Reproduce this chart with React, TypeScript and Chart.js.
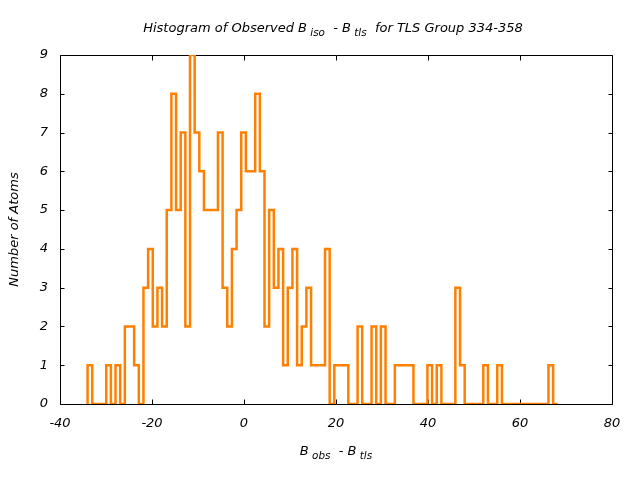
import React, { useEffect, useRef } from "react";
import { Chart, registerables } from "chart.js";

Chart.register(...registerables);

// Histogram bins (left edge of first bin, bin width) and counts per bin
const BIN_START = -34.0;
const BIN_WIDTH = 1.012;
const COUNTS = [
  1, 0, 0, 0, 1, 0, 1, 0, 2, 2,
  1, 0, 3, 4, 2, 3, 2, 5, 8, 5,
  7, 2, 9, 7, 6, 5, 5, 5, 7, 3,
  2, 4, 5, 7, 6, 6, 8, 6, 2, 5,
  3, 4, 1, 3, 4, 1, 2, 3, 1, 1,
  1, 4, 0, 1, 1, 1, 0, 0, 2, 0,
  0, 2, 0, 2, 0, 0, 1, 1, 1, 1,
  0, 0, 0, 1, 0, 1, 0, 0, 0, 3,
  1, 0, 0, 0, 0, 1, 0, 0, 1, 0,
  0, 0, 0, 0, 0, 0, 0, 0, 0, 1,
  0,
];

const X_MIN = -40;
const X_MAX = 80;
const X_STEP = 20;
const Y_MIN = 0;
const Y_MAX = 9;
const Y_STEP = 1;

type Part = { text: string; sub: boolean };
const TITLE_PARTS: Part[] = [
  { text: "Histogram of Observed B", sub: false },
  { text: " iso", sub: true },
  { text: "  - B", sub: false },
  { text: " tls", sub: true },
  { text: "  for TLS Group 334-358", sub: false },
];
const X_TITLE_PARTS: Part[] = [
  { text: "B", sub: false },
  { text: " obs", sub: true },
  { text: "  - B", sub: false },
  { text: " tls", sub: true },
];
const Y_TITLE = "Number of Atoms";

const LINE_COLOR = "#ff8000";
const FONT_FAMILY = "'DejaVu Sans', sans-serif";
const FONT_SIZE = 13;

function drawRich(ctx: CanvasRenderingContext2D, parts: Part[], cx: number, baseline: number, size: number) {
  const subSize = size * 0.8;
  const fontFor = (sub: boolean) => `italic ${sub ? subSize : size}px ${FONT_FAMILY}`;
  let total = 0;
  const widths = parts.map((p) => {
    ctx.font = fontFor(p.sub);
    const w = ctx.measureText(p.text).width;
    total += w;
    return w;
  });
  let x = cx - total / 2;
  ctx.textAlign = "left";
  ctx.textBaseline = "alphabetic";
  parts.forEach((p, i) => {
    ctx.font = fontFor(p.sub);
    ctx.fillText(p.text, x, baseline + (p.sub ? size * 0.3 : 0));
    x += widths[i];
  });
}

const decorPlugin = {
  id: "decor",
  beforeDatasetsDraw(chart: any) {
    const { ctx, chartArea } = chart;
    const xs = chart.scales.x;
    const ys = chart.scales.y;
    const l = Math.round(chartArea.left) + 0.5;
    const r = Math.round(chartArea.right) + 0.5;
    const t = Math.round(chartArea.top) + 0.5;
    const b = Math.round(chartArea.bottom) + 0.5;
    ctx.save();
    ctx.strokeStyle = "#000";
    ctx.lineWidth = 1;
    ctx.beginPath();
    ctx.rect(l, t, r - l, b - t);
    ctx.stroke();
    ctx.beginPath();
    xs.ticks.forEach((tk: any) => {
      const px = Math.round(xs.getPixelForValue(tk.value)) + 0.5;
      ctx.moveTo(px, b);
      ctx.lineTo(px, b - 5);
      ctx.moveTo(px, t);
      ctx.lineTo(px, t + 5);
    });
    ys.ticks.forEach((tk: any) => {
      const py = Math.round(ys.getPixelForValue(tk.value)) + 0.5;
      ctx.moveTo(l, py);
      ctx.lineTo(l + 4, py);
      ctx.moveTo(r, py);
      ctx.lineTo(r - 4, py);
    });
    ctx.stroke();
    ctx.restore();
  },
  afterDraw(chart: any) {
    const { ctx, chartArea } = chart;
    const cx = (chartArea.left + chartArea.right) / 2;
    ctx.save();
    ctx.fillStyle = "#000";
    drawRich(ctx, TITLE_PARTS, cx - 3, 32, FONT_SIZE);
    drawRich(ctx, X_TITLE_PARTS, cx, 455, FONT_SIZE);
    ctx.translate(18, (chartArea.top + chartArea.bottom) / 2);
    ctx.rotate(-Math.PI / 2);
    ctx.font = `italic ${FONT_SIZE}px ${FONT_FAMILY}`;
    ctx.textAlign = "center";
    ctx.textBaseline = "alphabetic";
    ctx.fillText(Y_TITLE, 0, 0);
    ctx.restore();
  },
};

export default function App() {
  const ref = useRef<HTMLCanvasElement | null>(null);

  useEffect(() => {
    if (!ref.current) return;
    const points: { x: number; y: number }[] = [{ x: BIN_START, y: 0 }];
    COUNTS.forEach((c, i) => points.push({ x: BIN_START + i * BIN_WIDTH, y: c }));
    points.push({ x: BIN_START + COUNTS.length * BIN_WIDTH, y: 0 });

    const tickFont = { family: FONT_FAMILY, size: FONT_SIZE, style: "italic" as const };
    const chart = new Chart(ref.current, {
      type: "line",
      data: {
        datasets: [
          {
            data: points,
            borderColor: LINE_COLOR,
            borderWidth: 2.5,
            pointRadius: 0,
            fill: false,
            stepped: "before",
            tension: 0,
          },
        ],
      },
      options: {
        responsive: false,
        animation: false,
        devicePixelRatio: 1,
        parsing: false as any,
        layout: { padding: { top: 55, right: 28, left: 0, bottom: 0 } },
        plugins: { legend: { display: false }, tooltip: { enabled: false }, title: { display: false } },
        scales: {
          x: {
            type: "linear",
            min: X_MIN,
            max: X_MAX,
            grid: { display: false, drawTicks: false },
            border: { display: false },
            ticks: { stepSize: X_STEP, color: "#000", font: tickFont, padding: 12, maxRotation: 0 },
            afterFit: (s: any) => {
              s.height = 76;
            },
          },
          y: {
            type: "linear",
            min: Y_MIN,
            max: Y_MAX,
            grid: { display: false, drawTicks: false },
            border: { display: false },
            ticks: { stepSize: Y_STEP, color: "#000", font: tickFont, padding: 12 },
            afterFit: (s: any) => {
              s.width = 60;
            },
          },
        },
      },
      plugins: [decorPlugin],
    });
    return () => chart.destroy();
  }, []);

  return (
    <div style={{ position: "fixed", left: 0, top: 0, width: 640, height: 480, background: "#fff" }}>
      <canvas ref={ref} width={640} height={480} />
    </div>
  );
}
